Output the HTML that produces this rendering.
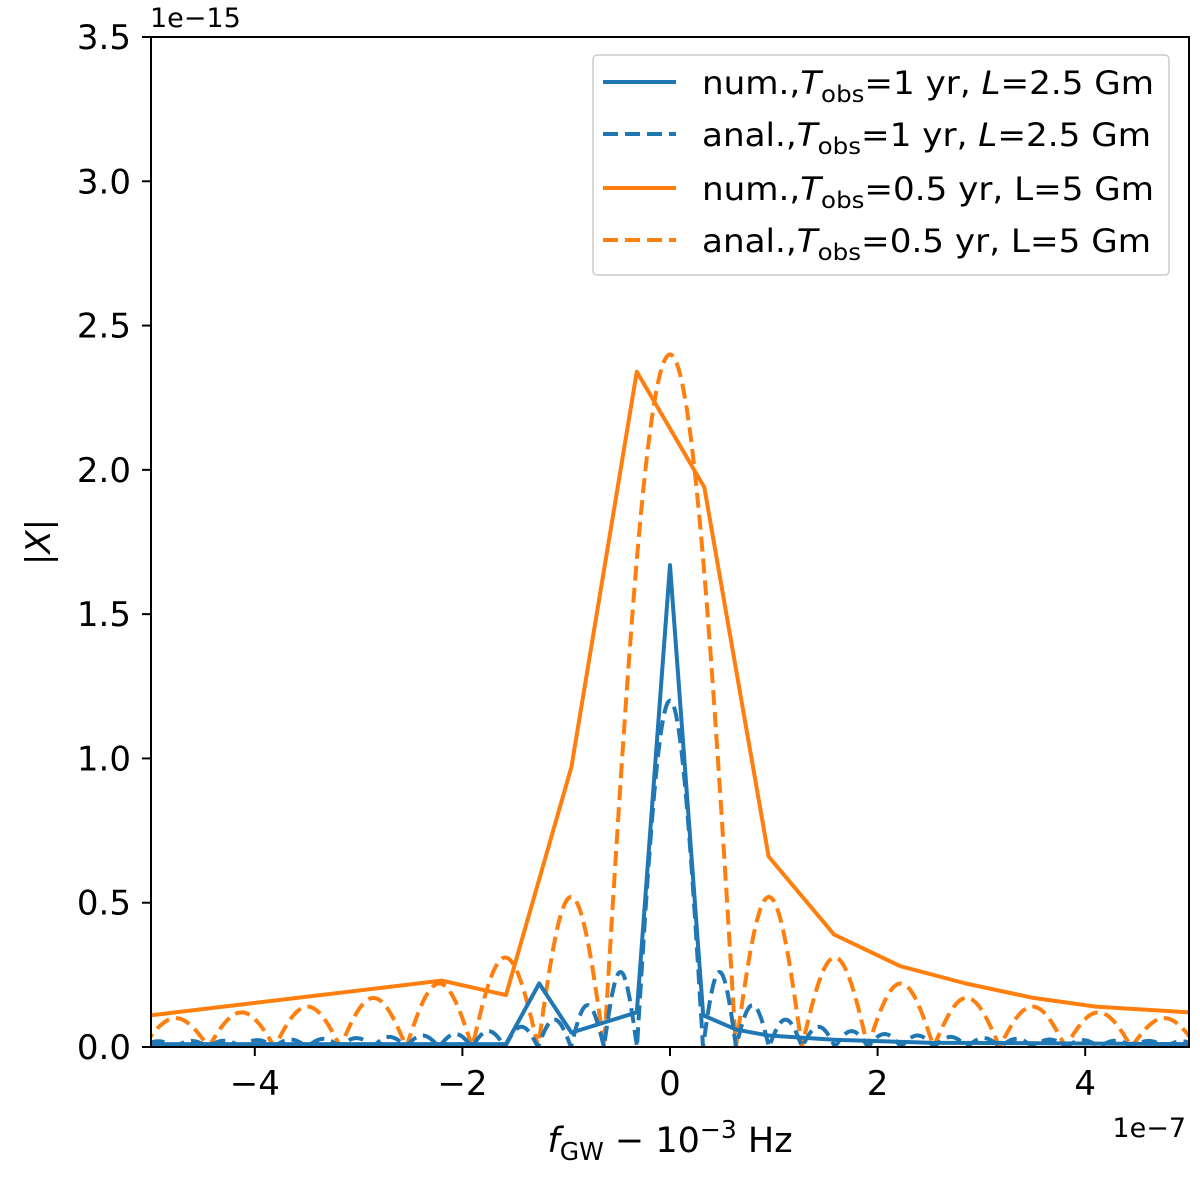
<!DOCTYPE html>
<html><head><meta charset="utf-8"><style>
body{margin:0;background:#fff;}
svg text{font-family:"DejaVu Sans","Liberation Sans",sans-serif;fill:#000;}
</style></head><body>
<svg id="chart" width="1200" height="1172" xmlns="http://www.w3.org/2000/svg">
<defs><clipPath id="clip"><rect x="151" y="37" width="1038" height="1010"/></clipPath></defs>
<g id="plot" clip-path="url(#clip)"></g>
<rect x="151" y="37" width="1038" height="1010" fill="none" stroke="#000" stroke-width="2"/>
<g id="axes"></g>
<text x="150" y="27" font-size="27">1e−15</text>
<text x="1186" y="1137" font-size="27" text-anchor="end">1e−7</text>
<text transform="translate(50,542) rotate(-90)" font-size="34" text-anchor="middle">|<tspan font-style="italic">X</tspan>|</text>
<text x="670" y="1152" font-size="35" text-anchor="middle"><tspan font-style="italic">f</tspan><tspan font-size="25" dy="8">GW</tspan><tspan dy="-8"> − 10</tspan><tspan font-size="25" dy="-14">−3</tspan><tspan dy="14"> Hz</tspan></text>
<g>
<rect x="593" y="55" width="576" height="220" rx="4" fill="#fff" fill-opacity="0.85" stroke="#ccc" stroke-width="1.5"/>
<line x1="603" y1="82" x2="676" y2="82" stroke="#1f77b4" stroke-width="4"/>
<line x1="603" y1="134" x2="676" y2="134" stroke="#1f77b4" stroke-width="4" stroke-dasharray="15,7"/>
<line x1="603" y1="188" x2="676" y2="188" stroke="#ff7f0e" stroke-width="4"/>
<line x1="603" y1="240" x2="676" y2="240" stroke="#ff7f0e" stroke-width="4" stroke-dasharray="15,7"/>
<text x="702" y="94" font-size="32" textLength="452" lengthAdjust="spacingAndGlyphs">num.,<tspan font-style="italic">T</tspan><tspan font-size="23" dy="8">obs</tspan><tspan dy="-8">=1 yr, </tspan><tspan font-style="italic">L</tspan>=2.5 Gm</text>
<text x="702" y="146" font-size="32" textLength="449" lengthAdjust="spacingAndGlyphs">anal.,<tspan font-style="italic">T</tspan><tspan font-size="23" dy="8">obs</tspan><tspan dy="-8">=1 yr, </tspan><tspan font-style="italic">L</tspan>=2.5 Gm</text>
<text x="702" y="200" font-size="32" textLength="452" lengthAdjust="spacingAndGlyphs">num.,<tspan font-style="italic">T</tspan><tspan font-size="23" dy="8">obs</tspan><tspan dy="-8">=0.5 yr, L=5 Gm</tspan></text>
<text x="702" y="252" font-size="32" textLength="449" lengthAdjust="spacingAndGlyphs">anal.,<tspan font-style="italic">T</tspan><tspan font-size="23" dy="8">obs</tspan><tspan dy="-8">=0.5 yr, L=5 Gm</tspan></text>
</g>
</svg>
<script>
const xTicks=[-4,-2,0,2,4];
const xTickLabels=["−4","−2","0","2","4"];
const yTicks=[0,0.5,1,1.5,2,2.5,3,3.5];
const yTickLabels=["0.0","0.5","1.0","1.5","2.0","2.5","3.0","3.5"];
const orangeNumX=[-5,-2.2,-1.58,-0.95,-0.32,0.33,0.95,1.58,2.22,2.85,3.5,4.1,5];
const orangeNumY=[0.11,0.23,0.18,0.97,2.34,1.94,0.66,0.39,0.28,0.22,0.17,0.14,0.12];
const blueNumX=[-5,-3,-1.58,-1.26,-0.95,-0.32,0,0.32,0.64,0.95,1.58,2.5,5];
const blueNumY=[0.01,0.01,0.01,0.22,0.05,0.12,1.67,0.11,0.06,0.04,0.025,0.015,0.01];
// analytic curves: lobes between zeros (lobe width), peak per lobe
const orangeLobeWidth=0.635;
const orangeLobePeaks=[2.4,0.52,0.31,0.22,0.17,0.14,0.12,0.10,0.09];
const blueLobeWidth=0.318;
const blueLobePeaks=[1.2,0.26,0.145,0.095,0.07,0.055,0.045,0.04,0.035,0.031,0.028,0.026,0.024,0.022,0.021,0.02,0.019];

const X0=151,X1=1189,Y0=1047,Y1=37;
const sx=v=>X0+(v+5)/10*(X1-X0);
const sy=v=>Y0-v/3.5*(Y0-Y1);
const NS="http://www.w3.org/2000/svg";
const plot=document.getElementById('plot'), axes=document.getElementById('axes');

function mk(tag,attrs,parent){const e=document.createElementNS(NS,tag);for(const k in attrs)e.setAttribute(k,attrs[k]);parent.appendChild(e);return e;}

xTicks.forEach((t,i)=>{
  const l=mk('line',{x1:sx(t),x2:sx(t),y1:Y0,y2:Y0+9,stroke:'#000','stroke-width':2},axes);
  
  
  const tx=mk('text',{x:sx(t),y:Y0+48,'font-size':34,'text-anchor':'middle'},axes);
  tx.textContent=xTickLabels[i];
  
  
});
yTicks.forEach((t,i)=>{
  const l=mk('line',{x1:X0-9,x2:X0,y1:sy(t),y2:sy(t),stroke:'#000','stroke-width':2},axes);
  
  
  const tx=mk('text',{x:X0-20,y:sy(t)+12,'font-size':34,'text-anchor':'end'},axes);
  tx.textContent=yTickLabels[i];
  
  
});

function lobePath(w,peaks){
  let pts=[];
  const n=40;
  for(let k=peaks.length-1;k>=1;k--){
    for(let j=0;j<=n;j++){
      pts.push([-((k+1)*w - j/n*w),peaks[k]*Math.sin(Math.PI*j/n)]);
    }
  }
  for(let j=0;j<=2*n;j++){const f=j/(2*n);pts.push([-w+2*w*f,peaks[0]*Math.sin(Math.PI*f)]);}
  for(let k=1;k<peaks.length;k++){
    for(let j=0;j<=n;j++){pts.push([k*w+j/n*w,peaks[k]*Math.sin(Math.PI*j/n)]);}
  }
  return 'M'+pts.map(p=>sx(p[0]).toFixed(1)+','+sy(p[1]).toFixed(1)).join('L');
}
function linePath(xs,ys){return 'M'+xs.map((x,i)=>sx(x).toFixed(1)+','+sy(ys[i]).toFixed(1)).join('L');}

let p;
p=mk('path',{d:linePath(orangeNumX,orangeNumY),fill:'none',stroke:'#ff7f0e','stroke-width':4,'stroke-linejoin':'round'},plot);


p=mk('path',{d:lobePath(orangeLobeWidth,orangeLobePeaks),fill:'none',stroke:'#ff7f0e','stroke-width':4,'stroke-dasharray':'15,7'},plot);


p=mk('path',{d:linePath(blueNumX,blueNumY),fill:'none',stroke:'#1f77b4','stroke-width':4,'stroke-linejoin':'round'},plot);


p=mk('path',{d:lobePath(blueLobeWidth,blueLobePeaks),fill:'none',stroke:'#1f77b4','stroke-width':4,'stroke-dasharray':'15,7'},plot);


</script>
</body></html>
